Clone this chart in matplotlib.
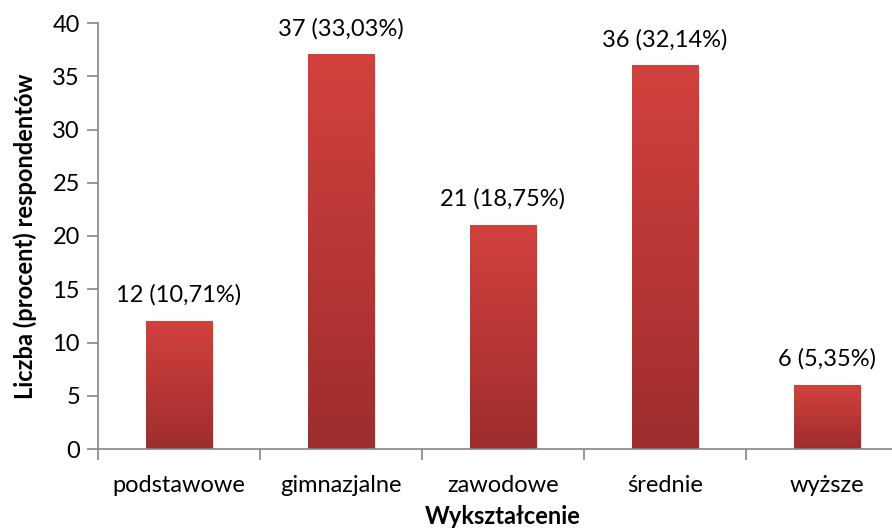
import matplotlib
matplotlib.use("Agg")
import matplotlib.pyplot as plt
import numpy as np
from matplotlib.colors import LinearSegmentedColormap

categories = ["podstawowe", "gimnazjalne", "zawodowe", "średnie", "wyższe"]
counts = [12, 37, 21, 36, 6]
labels = ["12 (10,71%)", "37 (33,03%)", "21 (18,75%)", "36 (32,14%)", "6 (5,35%)"]

plt.rcParams['font.family'] = ['Lato', 'DejaVu Sans']
FS = 17

fig = plt.figure(figsize=(8.92, 5.32), dpi=100)
ax = fig.add_axes([98/892, 83/532, 810/892, 426/532])

cmap = LinearSegmentedColormap.from_list("g", ["#9e2d2d", "#d2413e"])
grad = np.linspace(0, 1, 256).reshape(-1, 1)
w = 0.41
x = np.arange(len(categories))
for xi, v, lab in zip(x, counts, labels):
    ax.bar(xi + 0.012, v, width=w, bottom=-0.15, color="#000000", alpha=0.12, zorder=1)
    ax.imshow(grad, cmap=cmap, origin="lower", aspect="auto",
              extent=[xi - w/2, xi + w/2, 0, v], zorder=2)
    ax.annotate(lab, (xi, v), xytext=(0, 11), textcoords="offset points",
                ha="center", va="bottom", fontsize=FS)

ax.set_xlim(-0.5, len(categories) - 0.5)
ax.set_ylim(0, 40)
ax.set_yticks(range(0, 41, 5))
ax.set_xticks(x)
ax.set_xticklabels(categories, fontsize=FS)
ax.set_xticks(np.arange(-0.5, len(categories), 1), minor=True)
ax.tick_params(axis="x", which="major", length=0, pad=19)
ax.tick_params(axis="x", which="minor", length=8, color="#868686", width=1.2)
ax.tick_params(axis="y", length=8, color="#868686", width=1.2, labelsize=FS, pad=5)
for s in ["top", "right"]:
    ax.spines[s].set_visible(False)
for s in ["left", "bottom"]:
    ax.spines[s].set_color("#868686")
    ax.spines[s].set_linewidth(1.2)
ax.set_xlabel("Wykształcenie", fontsize=FS, fontweight="bold", labelpad=6)
ax.set_ylabel("Liczba (procent) respondentów", fontsize=FS, fontweight="bold", labelpad=11)

fig.savefig("out.png", dpi=100)
